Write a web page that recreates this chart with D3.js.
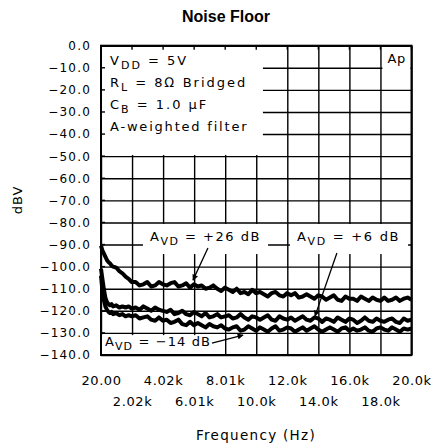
<!DOCTYPE html>
<html>
<head>
<meta charset="utf-8">
<script src="https://cdn.jsdelivr.net/npm/d3@7"></script>
<style>
  body { margin: 0; background: #fff; }
  text { font-family: 'DejaVu Sans', sans-serif; fill: #000; }
</style>
</head>
<body>
<div id="chart"></div>
<script>
// sample frequencies (Hz)
var freqs = [
  20, 100, 200, 300, 400, 500, 600, 700, 800, 1000, 1200, 1400, 1600, 1800, 2000,
  2250, 2500, 2750, 3000, 3250, 3500, 3750, 4000,
  4250, 4500, 4750, 5000, 5250, 5500, 5750, 6000,
  6250, 6500, 6750, 7000, 7250, 7500, 7750, 8000,
  8250, 8500, 8750, 9000, 9250, 9500, 9750, 10000,
  10250, 10500, 10750, 11000, 11250, 11500, 11750, 12000,
  12250, 12500, 12750, 13000, 13250, 13500, 13750, 14000,
  14250, 14500, 14750, 15000, 15250, 15500, 15750, 16000,
  16250, 16500, 16750, 17000, 17250, 17500, 17750, 18000,
  18250, 18500, 18750, 19000, 19250, 19500, 19750, 20000
]

// A_VD = +26 dB
var noise26 = [
  -90.5, -92.5, -94, -95.5, -97, -98, -98.5, -99.5, -100, -100.5, -102, -103, -104.5, -105.5, -107,
  -107, -108.5, -108, -107, -109, -108.5, -107, -108,
  -108.5, -107.5, -107, -109, -108.5, -107.5, -109.5, -108,
  -109, -108.5, -110, -109.5, -108.5, -110, -111, -109.5,
  -110.5, -111.5, -110, -112, -111.5, -112.5, -110.5, -112,
  -111.5, -112.5, -113.5, -112, -111.5, -113, -113.5, -112,
  -113, -112, -114, -113.5, -112.5, -113.5, -114.5, -113,
  -113.5, -115, -114, -113, -115, -115.5, -113.5, -114.5,
  -114.5, -115.5, -113.5, -114.5, -115.5, -114, -115, -115.5,
  -114, -115.5, -115, -114, -115.5, -114.5, -114, -115
]

// A_VD = +6 dB
var noise6 = [
  -101, -105, -110, -114, -116, -117, -117.5, -117, -118, -117.5, -118.5, -118, -118.5, -118, -119,
  -118.5, -119.5, -118, -119, -120, -118.5, -119.5, -120,
  -120.5, -119.5, -121.5, -121, -120, -121.5, -122, -120.5,
  -121.5, -122.5, -121, -123, -122.5, -121.5, -123, -122.5,
  -122, -123.5, -123, -121.5, -123, -124, -122.5, -123,
  -124, -123, -122, -124, -124.5, -122.5, -123.5, -124,
  -123, -124.5, -123.5, -122.5, -124, -124.5, -123, -123.5,
  -125, -123.5, -124, -125, -123, -124, -125, -123.5,
  -124, -125.5, -124.5, -123, -124.5, -125, -123.5, -124.5,
  -125, -124, -123.5, -125, -125.5, -123.5, -124.5, -124
]

// A_VD = -14 dB
var noiseM14 = [
  -104, -110, -115, -118, -119.5, -120.5, -121, -120.5, -121.5, -121, -122, -121.5, -122.5, -122, -122.5,
  -122, -123.5, -123, -122.5, -124, -124.5, -123, -124.5,
  -124, -125.5, -125, -124, -126, -126.5, -125, -126.5,
  -125.5, -126.5, -127.5, -126, -127, -127.5, -126.5, -128,
  -128.5, -127.5, -127, -129, -128.5, -127, -128, -129,
  -127.5, -128.5, -129.5, -128, -127, -129, -128.5, -127.5,
  -128, -129.5, -128.5, -127.5, -129, -128, -127, -128.5,
  -129.5, -128.5, -127.5, -128.5, -129.5, -128, -127.5, -129,
  -128, -129, -128.5, -127.5, -129, -129.5, -128, -127.5,
  -128.5, -129, -127.5, -128.5, -129.5, -128, -128.5, -128
]

var xTicks = [20, 2018, 4016, 6014, 8012, 10010, 12008, 14006, 16004, 18002, 20000]
var xTickLabels = ['20.00', '2.02k', '4.02k', '6.01k', '8.01k', '10.0k', '12.0k', '14.0k', '16.0k', '18.0k', '20.0k']
var yTicks = [0, -10, -20, -30, -40, -50, -60, -70, -80, -90, -100, -110, -120, -130, -140]

// annotation arrows: [tail freq, tail dB, head freq, head dB]
var arrow26 = [6900, -91.6, 5940, -106.1]
var arrow6 = [15200, -93.8, 13790, -122.4]
var arrowM14 = [7160, -134.6, 9160, -131]

var W = 434, H = 448
var margin = { top: 45.7, left: 101 }
var width = 310.5, height = 309.3

var svg = d3.select('#chart').append('svg')
  .attr('width', W).attr('height', H)

svg.append('rect').attr('width', W).attr('height', H).attr('fill', '#fff')

var defs = svg.append('defs')
defs.append('marker')
  .attr('id', 'head')
  .attr('viewBox', '0 0 10 10')
  .attr('refX', 9).attr('refY', 5)
  .attr('markerWidth', 7).attr('markerHeight', 6)
  .attr('markerUnits', 'userSpaceOnUse')
  .attr('orient', 'auto')
  .append('path').attr('d', 'M0,0 L10,5 L0,10 z').attr('fill', '#000')

var g = svg.append('g')
  .attr('transform', 'translate(' + margin.left + ',' + margin.top + ')')

var x = d3.scaleLinear().domain([20, 20000]).range([0, width])
var y = d3.scaleLinear().domain([0, -140]).range([0, height])

// grid
g.append('g')
  .attr('class', 'grid')
  .call(d3.axisBottom(x).tickValues(xTicks).tickSize(height).tickFormat(''))
  .call(s => s.select('.domain').remove())
  .selectAll('line').attr('stroke', '#000').attr('stroke-width', 1.4)

g.append('g')
  .attr('class', 'grid')
  .call(d3.axisRight(y).tickValues(yTicks).tickSize(width).tickFormat(''))
  .call(s => s.select('.domain').remove())
  .selectAll('line').attr('stroke', '#000').attr('stroke-width', 1.4)

// white boxes hiding grid behind text
function whiteBox (f0, f1, d0, d1) {
  g.append('rect')
    .attr('x', x(f0)).attr('y', y(d0))
    .attr('width', x(f1) - x(f0)).attr('height', y(d1) - y(d0))
    .attr('fill', '#fff')
}
whiteBox(15, 10440, -0.6, -49.5)   // conditions legend
whiteBox(18130, 19935, -0.6, -19.4) // Ap
whiteBox(2720, 10770, -80.7, -94.3)
whiteBox(12180, 19780, -80.7, -94.3)
whiteBox(60, 7700, -131, -139.6)

// short inner ticks
g.selectAll('.lt').data(yTicks).enter().append('line')
  .attr('x1', 0).attr('x2', 4)
  .attr('y1', d => y(d)).attr('y2', d => y(d))
  .attr('stroke', '#000').attr('stroke-width', 1.4)
g.selectAll('.tt').data(xTicks).enter().append('line')
  .attr('y1', 0).attr('y2', 4)
  .attr('x1', d => x(d)).attr('x2', d => x(d))
  .attr('stroke', '#000').attr('stroke-width', 1.4)

// curves
var line = d3.line()
  .x((d, i) => x(freqs[i]))
  .y(d => y(d))

;[noise26, noise6, noiseM14].forEach(function (s) {
  g.append('path')
    .datum(s)
    .attr('d', line)
    .attr('fill', 'none')
    .attr('stroke', '#000')
    .attr('stroke-width', 4)
    .attr('stroke-linejoin', 'round')
})

// frame
g.append('rect')
  .attr('width', width).attr('height', height)
  .attr('fill', 'none').attr('stroke', '#000').attr('stroke-width', 2)

// arrows
;[arrow26, arrow6, arrowM14].forEach(function (a) {
  g.append('line')
    .attr('x1', x(a[0])).attr('y1', y(a[1]))
    .attr('x2', x(a[2])).attr('y2', y(a[3]))
    .attr('stroke', '#000').attr('stroke-width', 1.3)
    .attr('marker-end', 'url(#head)')
})

// axis labels
var yAx = g.append('g')
  .call(d3.axisLeft(y).tickValues(yTicks).tickSize(0).tickPadding(10)
    .tickFormat(d3.format('.1f')))
yAx.select('.domain').remove()
yAx.selectAll('text')
  .style('font-family', "'DejaVu Sans', sans-serif")
  .style('font-size', '12px')
  .style('letter-spacing', '1.2px')

var xAx = g.append('g')
  .attr('transform', 'translate(0,' + height + ')')
  .call(d3.axisBottom(x).tickValues(xTicks).tickSize(0)
    .tickFormat((d, i) => xTickLabels[i]))
xAx.select('.domain').remove()
xAx.selectAll('text')
  .attr('y', (d, i) => (i % 2 ? 51 : 30))
  .attr('dy', 0)
  .style('font-family', "'DejaVu Sans', sans-serif")
  .style('font-size', '13px')
  .style('letter-spacing', '0.6px')

// rich text with subscripts
function rich (px, py, parts, size, spacing) {
  var t = g.append('text')
    .attr('x', px).attr('y', py)
    .style('font-size', size + 'px')
    .style('letter-spacing', spacing + 'px')
    .style('white-space', 'pre')
  parts.forEach(function (p) {
    var ts = t.append('tspan').text(p[0])
    if (p[1]) ts.attr('dy', 4).style('font-size', (size - 2) + 'px')
    if (p[2]) ts.attr('dy', -4)
  })
}

rich(9, 19.5, [['V'], ['DD', 1], [' = 5V', 0, 1]], 13, 2)
rich(9, 41.5, [['R'], ['L', 1], [' = 8\u2126 Bridged', 0, 1]], 13, 2)
rich(9, 63.5, [['C'], ['B', 1], [' = 1.0 \u03bcF', 0, 1]], 13, 2)
rich(9, 85.5, [['A-weighted filter']], 13, 1.8)
rich(x(18450), 17.5, [['Ap']], 13, 0.8)

rich(49, 195.5, [['A'], ['VD', 1], [' = +26 dB', 0, 1]], 13, 1.5)
rich(196, 195.5, [['A'], ['VD', 1], [' = +6 dB', 0, 1]], 13, 1.7)
rich(4, 300.5, [['A'], ['VD', 1], [' = \u221214 dB', 0, 1]], 13, 1.1)

// titles
svg.append('text')
  .attr('x', 226).attr('y', 22)
  .attr('text-anchor', 'middle')
  .style('font-family', "'Liberation Sans', Arial, sans-serif")
  .style('font-weight', 'bold')
  .style('font-size', '16px')
  .text('Noise Floor')

svg.append('text')
  .attr('transform', 'translate(22,200) rotate(-90)')
  .attr('text-anchor', 'middle')
  .style('font-size', '13px')
  .style('letter-spacing', '1px')
  .text('dBV')

svg.append('text')
  .attr('x', 256).attr('y', 440)
  .attr('text-anchor', 'middle')
  .style('font-size', '13.5px')
  .style('letter-spacing', '1.3px')
  .text('Frequency (Hz)')
</script>
</body>
</html>
